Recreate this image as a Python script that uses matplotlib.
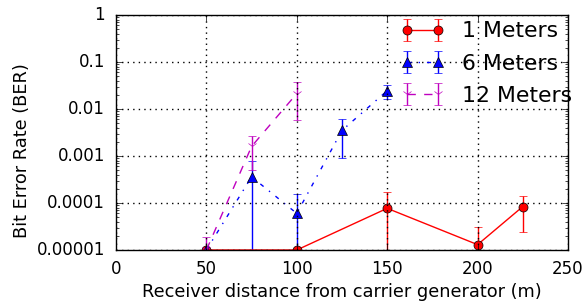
import matplotlib
matplotlib.use("Agg")
import matplotlib.pyplot as plt
from matplotlib.ticker import FixedLocator, FixedFormatter, LogLocator, NullFormatter

plt.style.use('classic')

x_1m = [50, 100, 150, 200, 225]
ber_1m = [1e-5, 1e-5, 7.7e-5, 1.3e-5, 8.4e-5]
err_1m = [0, 0, 9.3e-5, 1.8e-5, 6.0e-5]

x_6m = [50, 75, 100, 125, 150]
ber_6m = [1e-5, 3.6e-4, 6.0e-5, 3.5e-3, 0.0245]
err_6m = [0, 4.2e-4, 9.3e-5, 2.6e-3, 0.0085]

x_12m = [50, 75, 100]
ber_12m = [1e-5, 1.6e-3, 0.0213]
err_12m = [9e-6, 1.1e-3, 0.0155]

ytick_vals = [1e-5, 1e-4, 1e-3, 1e-2, 1e-1, 1]
ytick_labels = ['0.00001', '0.0001', '0.001', '0.01', '0.1', '1']
xtick_vals = [0, 50, 100, 150, 200, 250]

fig = plt.figure(figsize=(5.85, 3.01), dpi=100, facecolor='white')
ax = fig.add_axes([116/585, 1-250/301, (568-116)/585, (250-15)/301])

ax.errorbar(x_1m, ber_1m, yerr=err_1m, fmt='o-', color='red', mfc='red', mec='black',
            ms=6.5, lw=1, capsize=3, label='1 Meters')
ax.errorbar(x_6m, ber_6m, yerr=err_6m, fmt='^-.', color='blue', mfc='blue', mec='black',
            ms=6.5, lw=1, capsize=3, label='6 Meters')
ax.errorbar(x_12m, ber_12m, yerr=err_12m, fmt='1--', color='m', mfc='m', mec='m',
            ms=8, lw=1, capsize=3, label='12 Meters')

ax.set_yscale('log', nonpositive='clip')
ax.set_ylim(1e-5, 1)
ax.set_xlim(0, 250)
ax.xaxis.set_major_locator(FixedLocator(xtick_vals))
ax.yaxis.set_major_locator(FixedLocator(ytick_vals))
ax.yaxis.set_major_formatter(FixedFormatter(ytick_labels))
ax.yaxis.set_minor_locator(LogLocator(base=10, subs=range(2, 10)))
ax.yaxis.set_minor_formatter(NullFormatter())
ax.tick_params(labelsize=12)
ax.tick_params(axis='y', which='major', pad=8)
ax.tick_params(axis='x', which='major', pad=7)
ax.grid(True, which='major', color='black', linestyle=':', linewidth=1)

ax.set_xlabel('Receiver distance from carrier generator (m)', fontsize=12.8, labelpad=4)
ax.set_ylabel('Bit Error Rate (BER)', fontsize=12.8)
ax.yaxis.set_label_coords(31/585, 0.5, transform=fig.transFigure)

ax.legend(loc='upper left', frameon=False, fontsize=15.8, numpoints=2,
          handlelength=2.0, handletextpad=0.8, labelspacing=0.56, borderpad=0.4,
          borderaxespad=0,
          bbox_to_anchor=(391.6/585, 1-12.5/301), bbox_transform=fig.transFigure)

fig.savefig('out.png', dpi=100, facecolor='white')
